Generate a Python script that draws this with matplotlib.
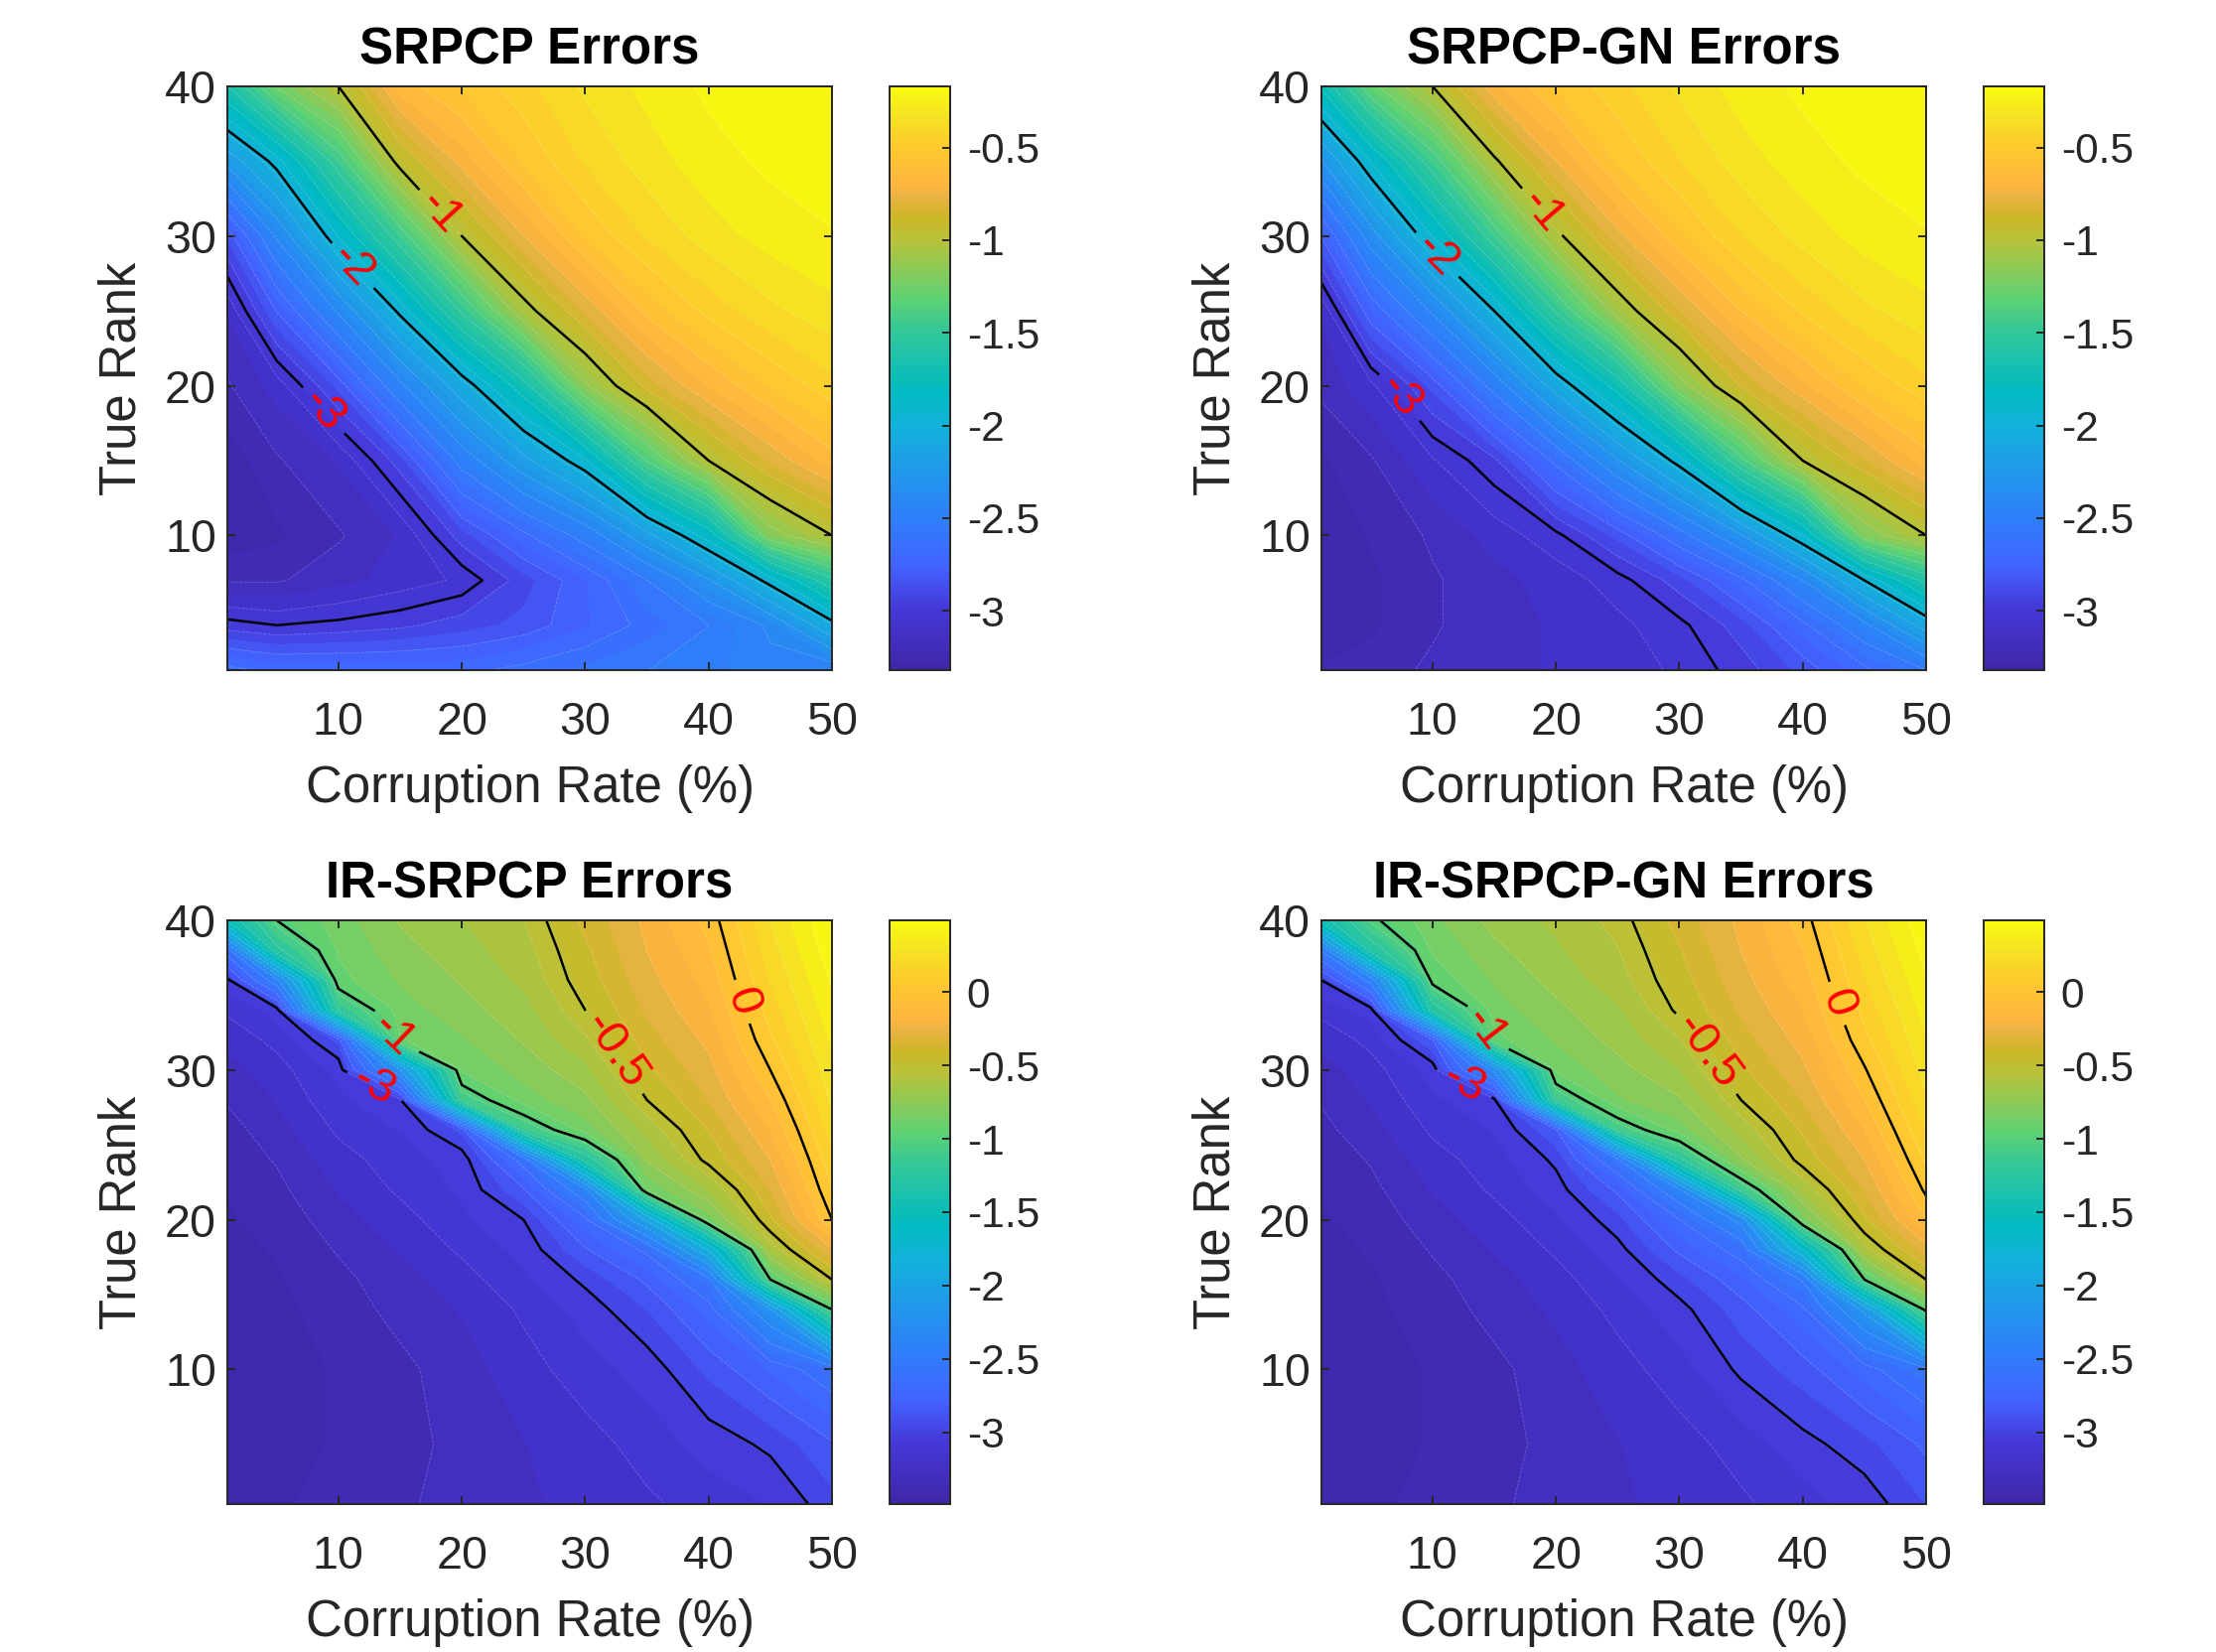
import numpy as np
import matplotlib
matplotlib.use("Agg")
import matplotlib.pyplot as plt
from matplotlib.cm import ScalarMappable
from matplotlib.colors import LinearSegmentedColormap, Normalize

plt.rcParams['font.family'] = ['Liberation Sans', 'DejaVu Sans']
plt.rcParams['axes.unicode_minus'] = False

# corruption rate (%) for each column of the tables
rates = [1, 5, 10, 15, 20, 25, 30, 35, 40, 45, 50]

# true rank rows, top panels
ranks_top = [1, 4, 7, 10, 15, 20, 25, 30, 35, 40]
# true rank rows, bottom panels (finer, the band there is steep)
ranks_bot = [1, 5, 10, 14, 16, 18, 20, 22, 24, 26, 28, 30, 32, 34, 36, 38, 40]

# log10 errors, one line per corruption rate
srpcp = [
    [-2.65, -2.97, -3.2, -3.3, -3.3, -3.2, -3.12, -2.86, -2.25, -1.65],
    [-2.7, -3.0, -3.2, -3.27, -3.2, -3.1, -2.8, -2.4, -1.95, -1.25],
    [-2.7, -2.98, -3.15, -3.2, -3.12, -2.85, -2.4, -1.9, -1.45, -1.0],
    [-2.7, -2.95, -3.1, -3.12, -2.9, -2.45, -1.97, -1.45, -0.95, -0.65],
    [-2.7, -2.9, -3.05, -2.9, -2.5, -2.08, -1.5, -1.0, -0.72, -0.55],
    [-2.65, -2.85, -2.9, -2.7, -2.2, -1.7, -1.05, -0.75, -0.55, -0.45],
    [-2.6, -2.75, -2.75, -2.5, -1.92, -1.15, -0.8, -0.55, -0.42, -0.35],
    [-2.55, -2.65, -2.55, -2.2, -1.38, -0.85, -0.6, -0.42, -0.33, -0.28],
    [-2.5, -2.55, -2.3, -1.85, -1.0, -0.68, -0.47, -0.33, -0.26, -0.22],
    [-2.45, -2.4, -1.95, -1.18, -0.8, -0.55, -0.38, -0.27, -0.22, -0.19],
    [-2.5, -2.05, -1.55, -1.0, -0.65, -0.45, -0.32, -0.24, -0.19, -0.17],
]
srpcp_gn = [
    [-3.25, -3.3, -3.3, -3.3, -3.27, -3.17, -3.12, -2.8, -2.3, -1.75],
    [-3.22, -3.27, -3.27, -3.25, -3.2, -3.08, -2.75, -2.35, -1.9, -1.3],
    [-3.18, -3.2, -3.2, -3.18, -3.07, -2.85, -2.4, -1.9, -1.45, -1.0],
    [-3.15, -3.15, -3.15, -3.1, -2.95, -2.5, -2.0, -1.45, -1.02, -0.7],
    [-3.12, -3.12, -3.1, -3.02, -2.65, -2.1, -1.5, -1.03, -0.75, -0.55],
    [-3.1, -3.08, -3.03, -2.85, -2.3, -1.72, -1.08, -0.77, -0.55, -0.45],
    [-3.05, -3.02, -2.9, -2.6, -1.95, -1.18, -0.82, -0.57, -0.43, -0.35],
    [-2.97, -2.9, -2.7, -2.3, -1.42, -0.87, -0.62, -0.43, -0.33, -0.27],
    [-2.85, -2.7, -2.42, -1.9, -1.0, -0.7, -0.48, -0.34, -0.26, -0.22],
    [-2.7, -2.45, -2.0, -1.2, -0.82, -0.55, -0.38, -0.27, -0.22, -0.19],
    [-2.55, -2.1, -1.6, -1.0, -0.65, -0.45, -0.32, -0.24, -0.19, -0.17],
]
ir_srpcp = [
    [-3.45, -3.47, -3.47, -3.46, -3.45, -3.44, -3.42, -3.4, -3.38, -3.36, -3.32, -3.28, -3.22, -3.15, -3.03, -2.6, -1.5],
    [-3.42, -3.44, -3.45, -3.43, -3.42, -3.4, -3.38, -3.35, -3.32, -3.28, -3.24, -3.2, -3.14, -3.05, -2.4, -1.25, -1.0],
    [-3.38, -3.4, -3.4, -3.37, -3.35, -3.32, -3.28, -3.24, -3.2, -3.15, -3.1, -3.06, -2.9, -1.2, -0.92, -0.88, -0.85],
    [-3.34, -3.36, -3.35, -3.3, -3.28, -3.24, -3.2, -3.15, -3.12, -3.08, -3.02, -2.2, -0.9, -0.85, -0.8, -0.76, -0.72],
    [-3.3, -3.3, -3.28, -3.24, -3.2, -3.15, -3.1, -3.07, -3.05, -2.9, -1.12, -0.88, -0.82, -0.76, -0.72, -0.68, -0.65],
    [-3.26, -3.25, -3.2, -3.15, -3.1, -3.06, -3.0, -2.85, -2.62, -1.15, -0.85, -0.78, -0.72, -0.68, -0.63, -0.6, -0.57],
    [-3.22, -3.2, -3.12, -3.05, -2.98, -2.85, -2.7, -2.4, -1.3, -0.85, -0.75, -0.67, -0.58, -0.5, -0.45, -0.42, -0.38],
    [-3.18, -3.13, -3.05, -2.92, -2.82, -2.65, -2.0, -0.88, -0.72, -0.62, -0.5, -0.42, -0.36, -0.31, -0.27, -0.24, -0.22],
    [-3.13, -3.05, -2.9, -2.72, -2.55, -1.85, -0.85, -0.65, -0.47, -0.4, -0.32, -0.27, -0.22, -0.17, -0.13, -0.09, -0.05],
    [-3.08, -2.98, -2.75, -2.2, -1.0, -0.62, -0.42, -0.32, -0.24, -0.16, -0.08, 0.0, 0.07, 0.12, 0.17, 0.21, 0.25],
    [-2.95, -2.85, -2.6, -1.0, -0.5, -0.25, 0.0, 0.08, 0.14, 0.2, 0.26, 0.3, 0.34, 0.38, 0.42, 0.46, 0.49],
]
ir_srpcp_gn = [
    [-3.46, -3.48, -3.47, -3.46, -3.45, -3.44, -3.42, -3.4, -3.38, -3.35, -3.32, -3.28, -3.22, -3.14, -3.0, -2.5, -1.45],
    [-3.43, -3.45, -3.45, -3.43, -3.42, -3.4, -3.38, -3.35, -3.32, -3.28, -3.24, -3.2, -3.14, -3.05, -2.45, -1.3, -1.03],
    [-3.38, -3.4, -3.4, -3.37, -3.35, -3.32, -3.28, -3.24, -3.2, -3.15, -3.1, -3.05, -2.85, -1.3, -0.95, -0.88, -0.83],
    [-3.34, -3.36, -3.35, -3.3, -3.28, -3.24, -3.2, -3.15, -3.12, -3.08, -3.03, -2.3, -0.92, -0.85, -0.8, -0.75, -0.7],
    [-3.3, -3.3, -3.28, -3.23, -3.2, -3.15, -3.1, -3.04, -2.98, -2.85, -1.15, -0.87, -0.8, -0.75, -0.7, -0.66, -0.63],
    [-3.26, -3.25, -3.2, -3.14, -3.09, -3.03, -2.95, -2.82, -2.55, -1.12, -0.82, -0.76, -0.7, -0.66, -0.6, -0.57, -0.54],
    [-3.22, -3.2, -3.12, -3.03, -2.95, -2.82, -2.68, -2.38, -1.25, -0.85, -0.74, -0.65, -0.57, -0.48, -0.44, -0.41, -0.37],
    [-3.18, -3.13, -2.98, -2.88, -2.78, -2.62, -2.3, -1.15, -0.74, -0.62, -0.5, -0.42, -0.36, -0.31, -0.27, -0.24, -0.22],
    [-3.12, -3.03, -2.88, -2.7, -2.5, -1.7, -0.85, -0.63, -0.46, -0.39, -0.32, -0.26, -0.21, -0.16, -0.12, -0.08, -0.04],
    [-3.05, -2.95, -2.72, -2.15, -1.0, -0.6, -0.42, -0.32, -0.24, -0.16, -0.08, -0.01, 0.06, 0.11, 0.16, 0.2, 0.24],
    [-2.92, -2.82, -2.55, -0.95, -0.5, -0.28, -0.08, 0.02, 0.1, 0.17, 0.23, 0.28, 0.32, 0.36, 0.4, 0.44, 0.48],
]

titles = ['SRPCP Errors', 'SRPCP-GN Errors', 'IR-SRPCP Errors', 'IR-SRPCP-GN Errors']
tables = [srpcp, srpcp_gn, ir_srpcp, ir_srpcp_gn]
rank_rows = [ranks_top, ranks_top, ranks_bot, ranks_bot]
clims = [(-3.32, -0.17), (-3.32, -0.17), (-3.49, 0.49), (-3.49, 0.49)]
line_levels = [[-3, -2, -1], [-3, -2, -1], [-3, -1, -0.5, 0], [-3, -1, -0.5, 0]]
bar_ticks = [[-3, -2.5, -2, -1.5, -1, -0.5], [-3, -2.5, -2, -1.5, -1, -0.5],
             [-3, -2.5, -2, -1.5, -1, -0.5, 0], [-3, -2.5, -2, -1.5, -1, -0.5, 0]]
# where the red contour labels sit
label_spots = [
    [(9, 18.5), (10.5, 27.5), (17.5, 31)],
    [(7, 19), (9.5, 28), (18, 31)],
    [(13, 29), (14, 32), (32, 31), (42.5, 34.5)],
    [(12.5, 29), (13, 32), (32, 31), (43, 34.5)],
]

# parula, colours picked off the colorbar in the figure
parula = LinearSegmentedColormap.from_list('parula', [
    (0.000, (0.25, 0.15, 0.66)),
    (0.105, (0.27, 0.22, 0.85)),
    (0.178, (0.26, 0.39, 1.00)),
    (0.263, (0.18, 0.50, 0.98)),
    (0.422, (0.07, 0.70, 0.85)),
    (0.477, (0.00, 0.73, 0.76)),
    (0.580, (0.20, 0.78, 0.60)),
    (0.640, (0.38, 0.82, 0.45)),
    (0.737, (0.72, 0.76, 0.23)),
    (0.776, (0.80, 0.72, 0.15)),
    (0.808, (0.90, 0.70, 0.25)),
    (0.834, (1.00, 0.71, 0.25)),
    (0.897, (1.00, 0.79, 0.18)),
    (0.945, (0.96, 0.88, 0.14)),
    (1.000, (0.98, 0.98, 0.06)),
])

W, H = 2232, 1664
dark = '#262626'
fig = plt.figure(figsize=(W / 200, H / 200), dpi=200)


def px_axes(left, top, right, bottom):
    return fig.add_axes([left / W, 1 - bottom / H, (right - left) / W, (bottom - top) / H])


lefts = [229, 1331, 229, 1331]
tops = [87, 87, 927, 927]

for i in range(4):
    left, top = lefts[i], tops[i]
    ax = px_axes(left, top, left + 609, top + 588)
    cax = px_axes(left + 667, top, left + 728, top + 588)

    Z = np.array(tables[i]).T
    vmin, vmax = clims[i]
    norm = Normalize(vmin, vmax)

    ax.contourf(rates, rank_rows[i], Z, levels=np.linspace(vmin, vmax, 50),
                cmap=parula, norm=norm, extend='both')
    ax.contour(rates, rank_rows[i], Z, levels=np.linspace(vmin, vmax, 50)[::2],
               colors='white', linewidths=0.3, alpha=0.22)
    cs = ax.contour(rates, rank_rows[i], Z, levels=line_levels[i], colors='black',
                    linewidths=0.9, negative_linestyles='solid')
    ax.clabel(cs, inline=True, inline_spacing=10, fmt='%g', fontsize=17,
              colors='red', manual=label_spots[i])

    ax.set_xlim(1, 50)
    ax.set_ylim(1, 40)
    ax.set_xticks([10, 20, 30, 40, 50])
    ax.set_yticks([10, 20, 30, 40])
    ax.tick_params(direction='in', top=True, right=True, length=3, width=0.7,
                   labelsize=16.8, colors=dark)
    ax.tick_params(axis='x', pad=11)
    ax.tick_params(axis='y', pad=4)
    ax.set_xlabel('Corruption Rate (%)', fontsize=18.3, color=dark, labelpad=7.5)
    ax.set_ylabel('True Rank', fontsize=18.3, color=dark, labelpad=6.5)
    ax.set_title(titles[i], fontsize=18.4, fontweight='bold', color='black', pad=8)
    for s in ax.spines.values():
        s.set_linewidth(0.7)
        s.set_color(dark)
        s.set_zorder(5)

    cb = fig.colorbar(ScalarMappable(norm=norm, cmap=parula), cax=cax)
    cb.set_ticks(bar_ticks[i])
    cb.set_ticklabels(['%g' % t for t in bar_ticks[i]])
    cax.tick_params(direction='in', length=3, width=0.7, labelsize=15.3, colors=dark, pad=6)
    cb.outline.set_linewidth(0.7)
    cb.outline.set_edgecolor(dark)

fig.savefig('out.png', dpi=200)
